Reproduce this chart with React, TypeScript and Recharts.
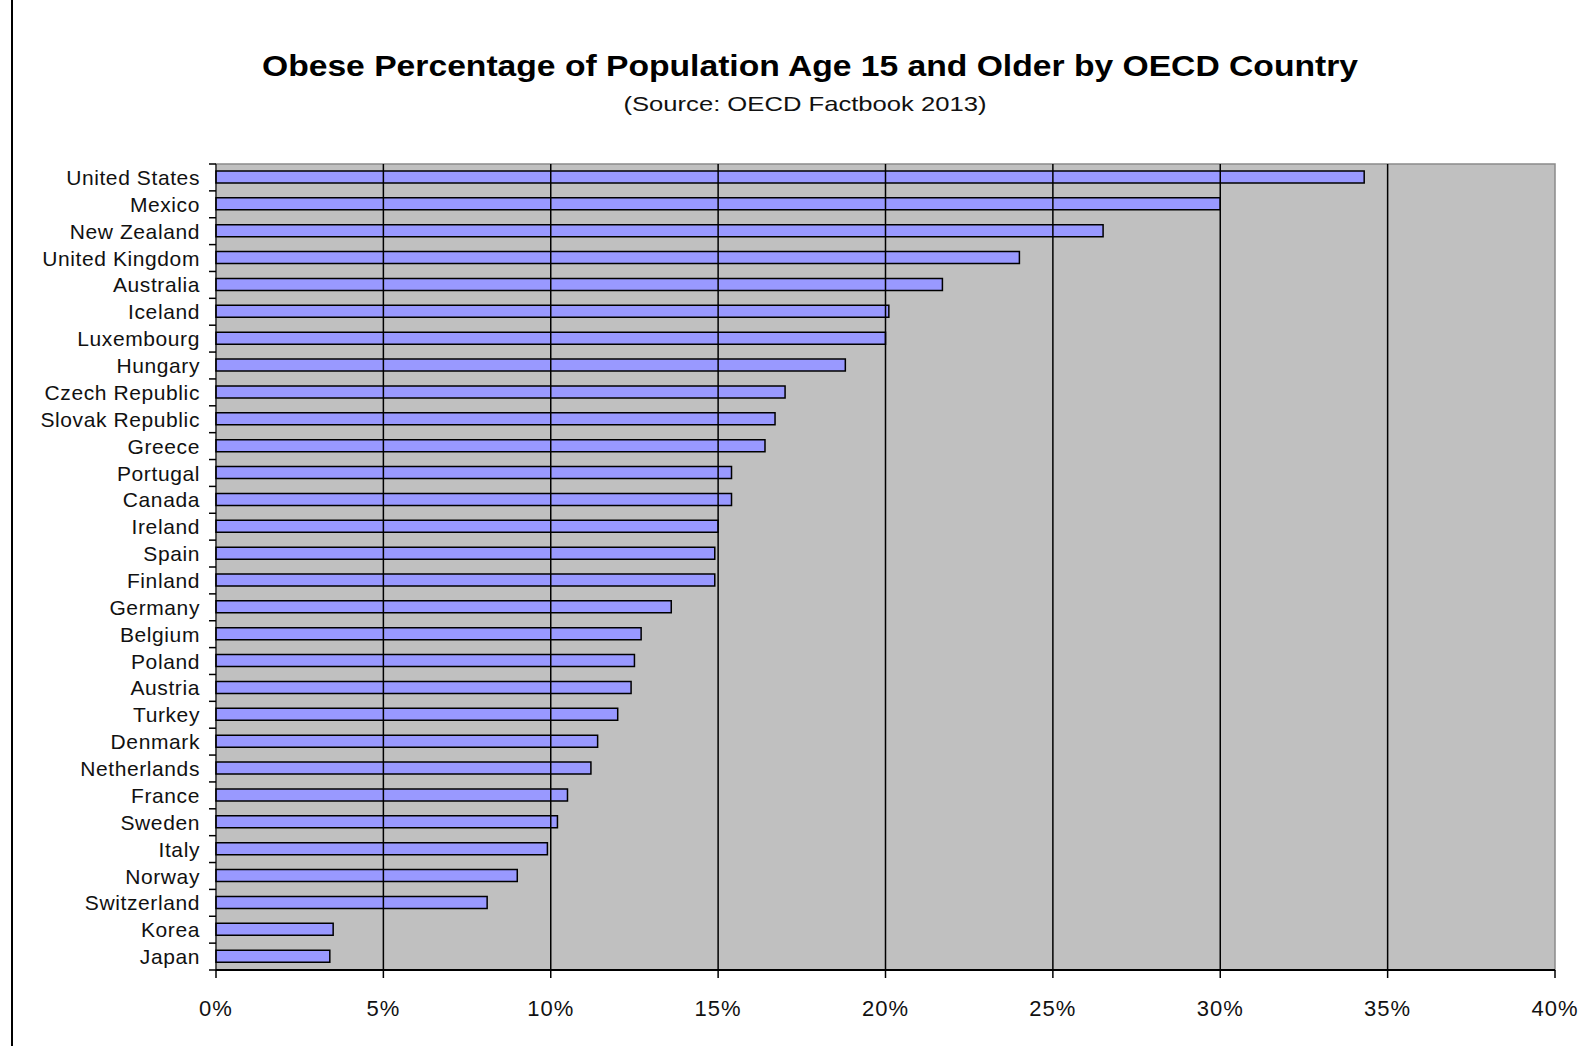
import React from 'react';
import { BarChart, Bar, XAxis, YAxis, ReferenceArea, ReferenceLine } from 'recharts';

// Obesity rates, population aged 15+, OECD Factbook 2013
const countries = [
  'United States', 'Mexico', 'New Zealand', 'United Kingdom', 'Australia',
  'Iceland', 'Luxembourg', 'Hungary', 'Czech Republic', 'Slovak Republic',
  'Greece', 'Portugal', 'Canada', 'Ireland', 'Spain', 'Finland', 'Germany',
  'Belgium', 'Poland', 'Austria', 'Turkey', 'Denmark', 'Netherlands',
  'France', 'Sweden', 'Italy', 'Norway', 'Switzerland', 'Korea', 'Japan',
];
const obesePct = [
  34.3, 30.0, 26.5, 24.0, 21.7,
  20.1, 20.0, 18.8, 17.0, 16.7,
  16.4, 15.4, 15.4, 15.0, 14.9, 14.9, 13.6,
  12.7, 12.5, 12.4, 12.0, 11.4, 11.2,
  10.5, 10.2, 9.9, 9.0, 8.1, 3.5, 3.4,
];
const xTicks = [0, 5, 10, 15, 20, 25, 30, 35, 40];
const gridValues = [5, 10, 15, 20, 25, 30, 35];

const title = 'Obese Percentage of Population Age 15 and Older by OECD Country';
const subtitle = '(Source: OECD Factbook 2013)';

const data = countries.map((name, i) => ({ name, value: obesePct[i] }));

const FONT = '"Liberation Sans", Arial, sans-serif';
const TICK_MARGIN = 16;
const TICK_LEN = 7;

// Category label plus a small tick mark on the band boundary above it
function CountryTick(props: any) {
  const { x, y, payload, index, visibleTicksCount } = props;
  const half = payload && payload.offset ? payload.offset : 13.4;
  const axisX = x + TICK_MARGIN;
  return (
    <g>
      <line x1={axisX - TICK_LEN} x2={axisX} y1={y - half} y2={y - half} stroke="#000" strokeWidth={1.5} />
      {index === visibleTicksCount - 1 && (
        <line x1={axisX - TICK_LEN} x2={axisX} y1={y + half} y2={y + half} stroke="#000" strokeWidth={1.5} />
      )}
      <text
        x={x}
        y={y}
        dy="0.36em"
        textAnchor="end"
        fontSize={21}
        fontFamily={FONT}
        letterSpacing={0.6}
        fill="#111"
      >
        {payload.value}
      </text>
    </g>
  );
}

export default function App() {
  return (
    <div style={{ position: 'absolute', left: 0, top: 0, width: 1591, height: 1046, background: '#fff' }}>
      <div style={{ position: 'absolute', left: 11, top: 0, width: 2, height: 1046, background: '#000' }} />
      <div
        style={{
          position: 'absolute', left: 0, width: 1620, top: 48, textAlign: 'center',
          fontFamily: FONT, fontWeight: 'bold', fontSize: 29, lineHeight: '36px', color: '#000',
          transform: 'scaleX(1.16)', transformOrigin: '810px 50%', whiteSpace: 'nowrap',
        }}
      >
        {title}
      </div>
      <div
        style={{
          position: 'absolute', left: 0, width: 1610, top: 91, textAlign: 'center',
          fontFamily: FONT, fontSize: 21, lineHeight: '26px', color: '#111',
          transform: 'scaleX(1.22)', transformOrigin: '805px 50%', whiteSpace: 'nowrap',
        }}
      >
        {subtitle}
      </div>
      <BarChart
        width={1591}
        height={1046}
        data={data}
        layout="vertical"
        margin={{ top: 164, right: 36, bottom: 36, left: 16 }}
        barSize={12}
      >
        <ReferenceArea x1={0} x2={40} fill="#C0C0C0" fillOpacity={1} stroke="#8a8a8a" strokeWidth={1.5} />
        {gridValues.map((v) => (
          <ReferenceLine key={v} x={v} stroke="#000" strokeWidth={1.5} />
        ))}
        <XAxis
          type="number"
          domain={[0, 40]}
          ticks={xTicks}
          tickFormatter={(v: number) => `${v}%`}
          axisLine={{ stroke: '#000', strokeWidth: 2 }}
          tickLine={{ stroke: '#000', strokeWidth: 1.5 }}
          tickSize={8}
          tickMargin={22}
          height={40}
          tick={{ fontSize: 22, fontFamily: FONT, fill: '#111', letterSpacing: 1 }}
        />
        <YAxis
          type="category"
          dataKey="name"
          width={200}
          interval={0}
          tickLine={false}
          tickSize={0}
          tickMargin={TICK_MARGIN}
          axisLine={{ stroke: '#000', strokeWidth: 1 }}
          tick={<CountryTick />}
        />
        <Bar dataKey="value" fill="#9999FF" stroke="#000" strokeWidth={1.5} isAnimationActive={false} />
      </BarChart>
    </div>
  );
}
